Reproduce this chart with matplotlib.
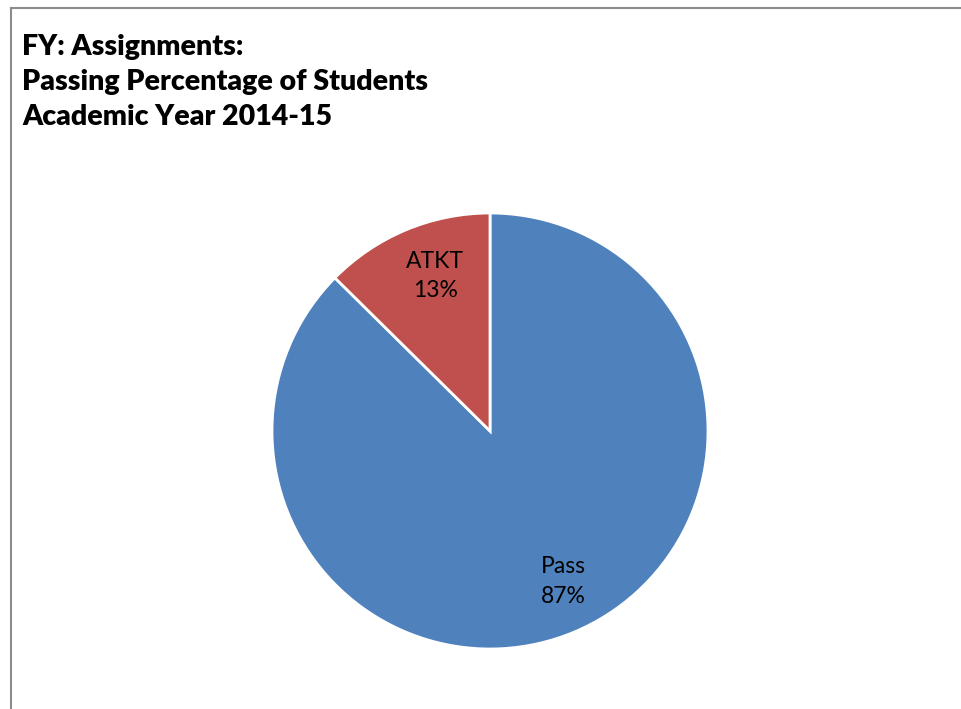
import matplotlib.pyplot as plt
from matplotlib.lines import Line2D

categories = ['Pass', 'ATKT']
shares = [87.4, 12.6]
colors = ['#4F81BD', '#C0504D']
title = 'FY: Assignments:\nPassing Percentage of Students\nAcademic Year 2014-15'

plt.rcParams['font.family'] = ['Lato', 'DejaVu Sans']

W, H = 961, 709
fig = plt.figure(figsize=(W / 100, H / 100), dpi=100)

# chart border (only top and left visible in the crop)
fig.add_artist(Line2D([10.5 / W, 1], [1 - 7.5 / H, 1 - 7.5 / H], color='#8c8c8c', lw=1.5))
fig.add_artist(Line2D([10.5 / W, 10.5 / W], [0, 1 - 7.5 / H], color='#8c8c8c', lw=1.5))

fig.text(22 / W, 1 - 34 / H, title, ha='left', va='top', fontsize=20.5, fontweight='heavy',
         linespacing=1.42)

cx, cy, r = 490, 431, 218
ax = fig.add_axes([(cx - r) / W, 1 - (cy + r) / H, 2 * r / W, 2 * r / H])

labels_iter = iter(categories)
def fmt(p):
    return '%s\n%d%%' % (next(labels_iter), round(p))

wedges, texts, autotexts = ax.pie(shares, colors=colors, startangle=90, counterclock=False,
                                  autopct=fmt, pctdistance=0.76,
                                  wedgeprops=dict(edgecolor='white', linewidth=2),
                                  textprops=dict(fontsize=16.5, color='black', linespacing=1.5))
# nudge labels to sit like the original
for t in autotexts:
    x, y = t.get_position()
    t.set_position((x + 9 / r, y + 0.01))
ax.set_xlim(-1, 1)
ax.set_ylim(-1, 1)
ax.set_aspect('equal')
ax.axis('off')

fig.savefig('out.png', dpi=100)
